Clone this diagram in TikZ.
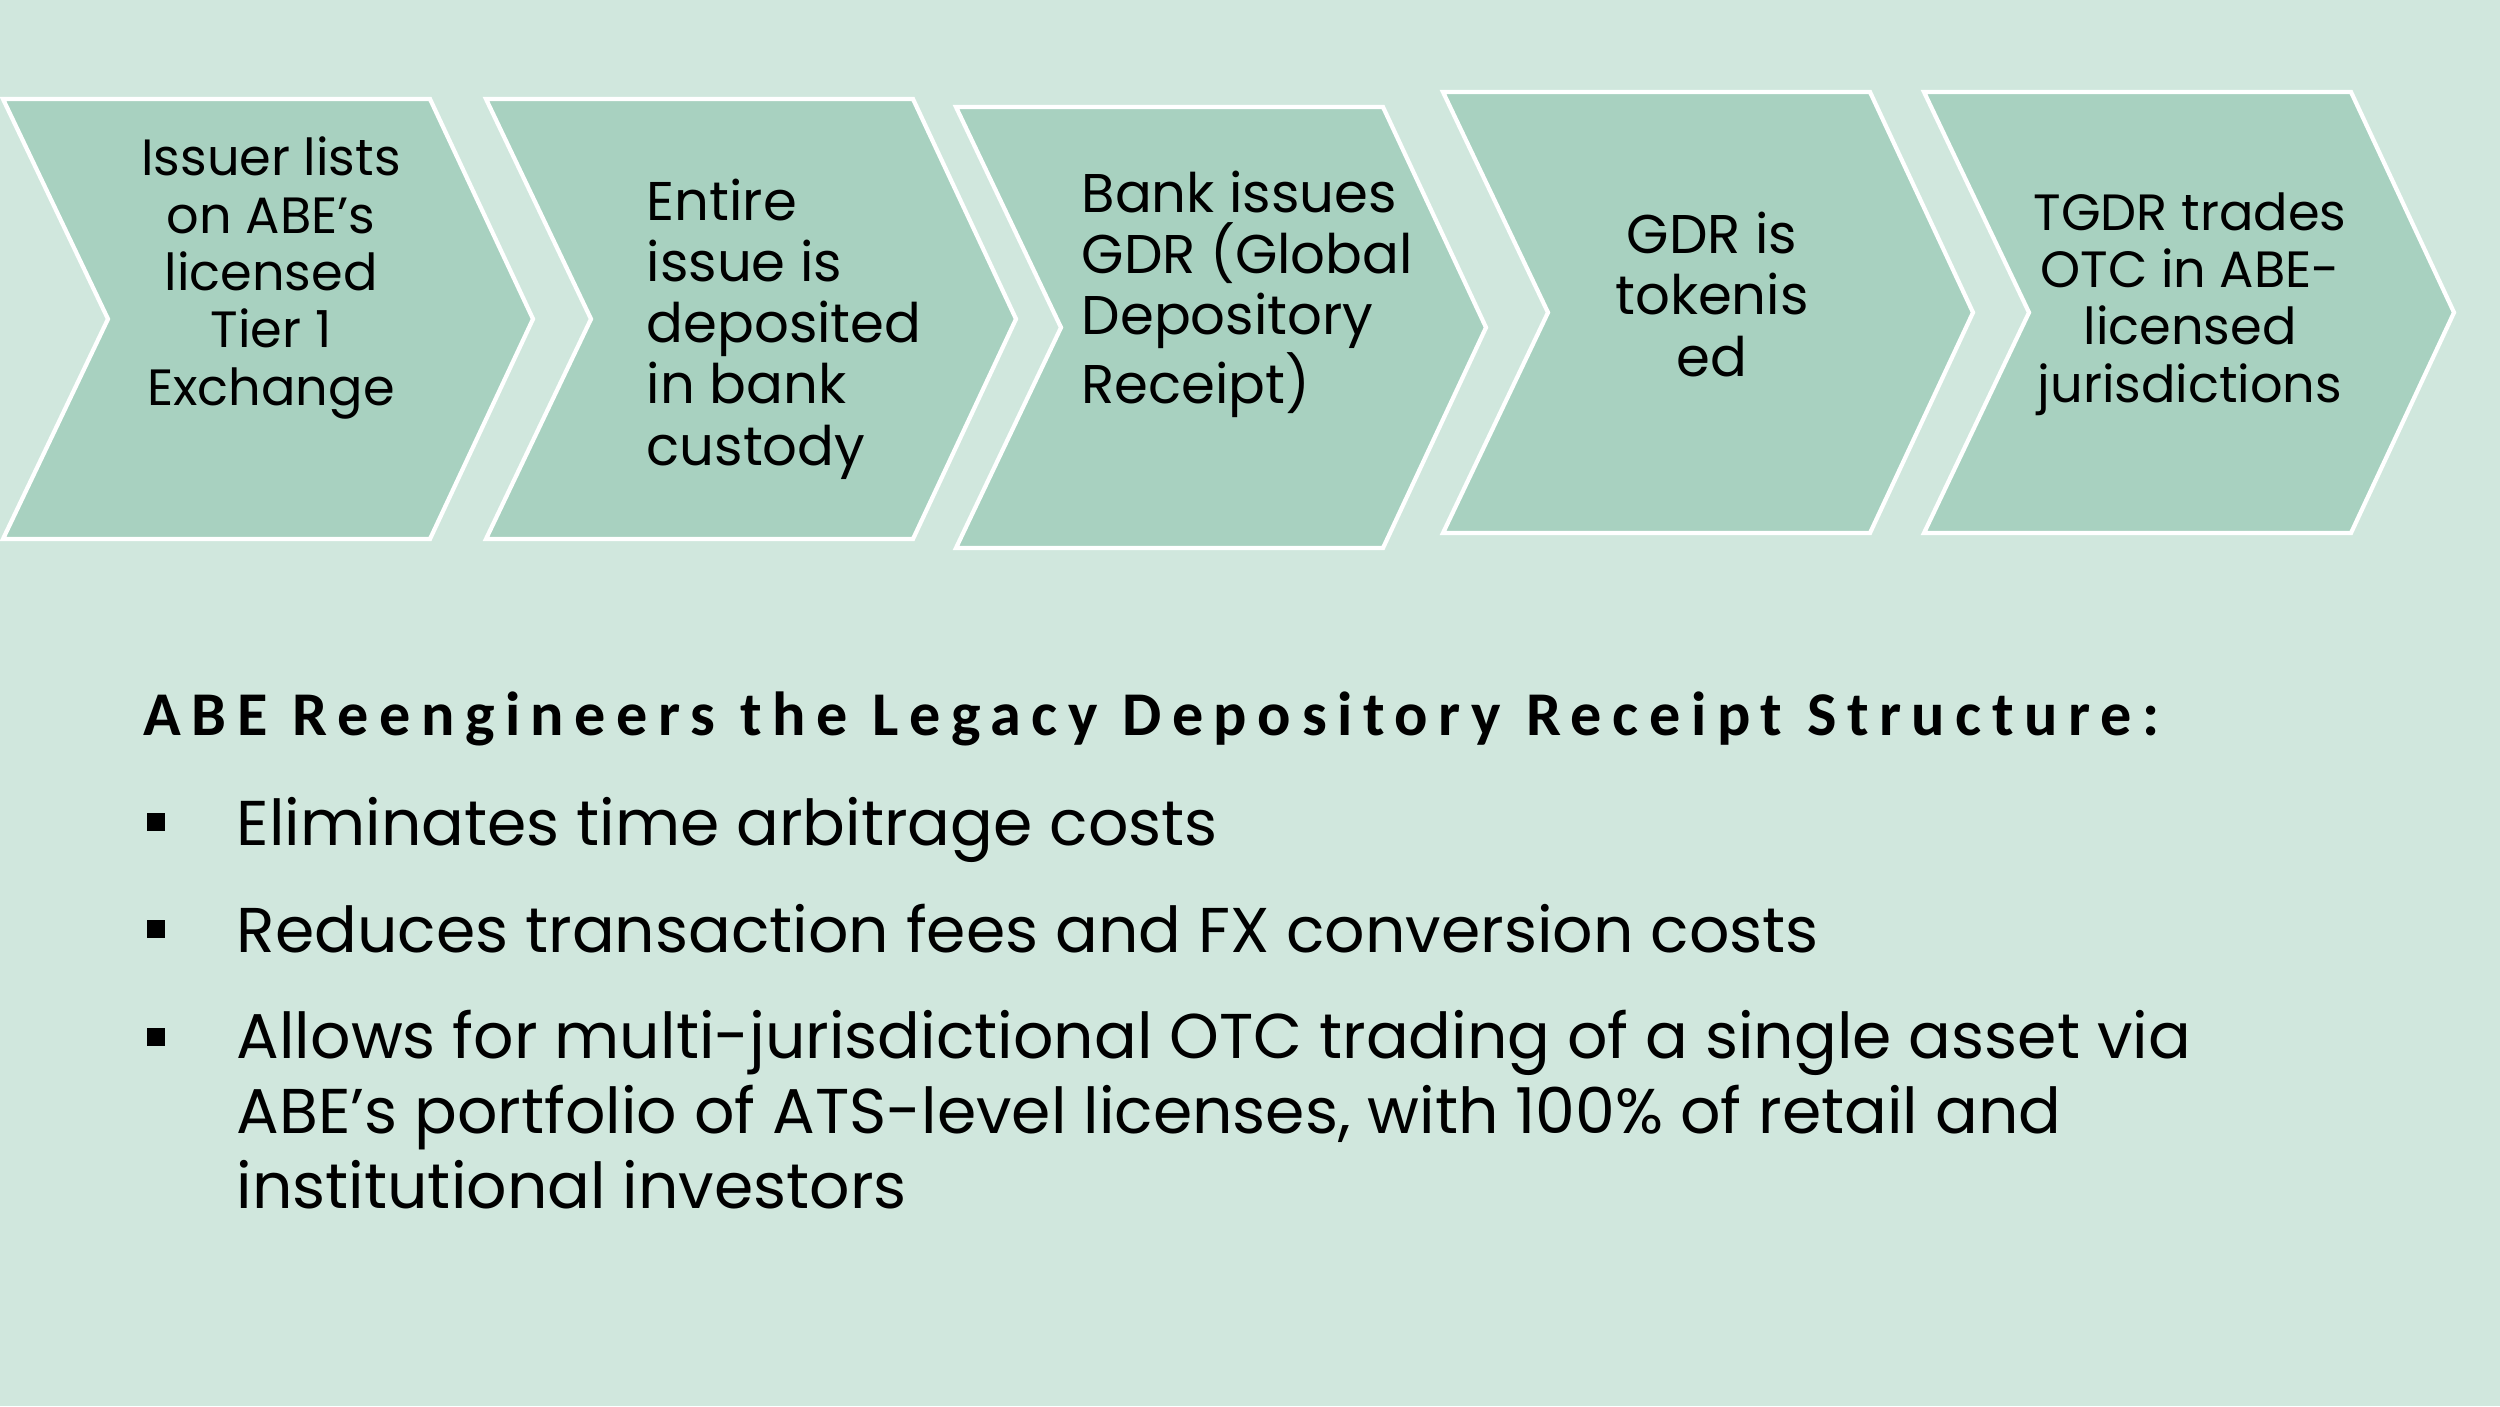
\documentclass[tikz,border=0pt]{standalone}
\usepackage{fontspec}
\setmainfont{Poppins}
\newfontfamily\headfont{Carlito}[LetterSpace=17]
\usetikzlibrary{positioning}

\definecolor{bgmint}{RGB}{208,231,221}
\definecolor{chevfill}{RGB}{168,209,192}

\begin{document}
\begin{tikzpicture}[x=0.01cm,y=-0.01cm,
    chev/.style={fill=chevfill,draw=white,line width=1.2pt,line join=miter},
    steptext/.style={inner sep=0pt,anchor=base,font=\fontsize{14.5}{16.3}\selectfont},
    stepwide/.style={steptext,font=\fontsize{15.5}{17.4}\selectfont},
    bul/.style={fill=black,inner sep=0pt,minimum size=0.18cm},
    point/.style={inner sep=0pt,anchor=base west,align=left,font=\fontsize{18}{21.3}\selectfont}]

    % background
    \fill[bgmint] (0,0) rectangle (2500,1406);
    \useasboundingbox (0,0) rectangle (2500,1406);

    % chevrons
    \foreach \l/\t/\b in {3/99/539, 486/99/539, 956/107/548, 1443/92/533, 1924/92/533}
        \draw[chev] (\l,\t) -- ++(427,0) -- (\l+530,{(\t+\b)/2}) -- (\l+427,\b)
            -- (\l,\b) -- (\l+105,{(\t+\b)/2}) -- cycle;

    % (base = last line)
    \node[steptext,align=center] (s1) at (271,405) {Issuer lists\\on ABE’s\\licensed\\Tier 1\\Exchange};
    \node[stepwide,align=left,anchor=base west] (s2) at (646,465) {Entire\\issue is\\deposited\\in bank\\custody};
    \node[stepwide,align=left,anchor=base west] (s3) at (1081,403) {Bank issues\\GDR (Global\\Depository\\Receipt)};
    \node[stepwide,align=center] (s4) at (1712,376) {GDR is\\tokenis\\ed};
    \node[steptext,align=center] (s5) at (2190,402) {TGDR trades\\OTC in ABE-\\licensed\\jurisdictions};

    % summary
    \node[inner sep=0pt,anchor=base west,font=\headfont\bfseries\fontsize{17.7}{20}\selectfont] (title)
        at (143,735) {ABE Reengineers the Legacy Depository Receipt Structure:};

    \node[bul] (b1) at (156,822) {};
    \node[bul] (b2) at (156,929) {};
    \node[bul] (b3) at (156,1037) {};

    \node[point] (p1) at (236,845) {Eliminates time arbitrage costs};
    \node[point] (p2) at (236,952) {Reduces transaction fees and FX conversion costs};
    \node[point] (p3) at (236,1208) {Allows for multi-jurisdictional OTC trading of a single asset via\\ABE’s portfolio of ATS-level licenses, with 100\% of retail and\\institutional investors};
\end{tikzpicture}
\end{document}
